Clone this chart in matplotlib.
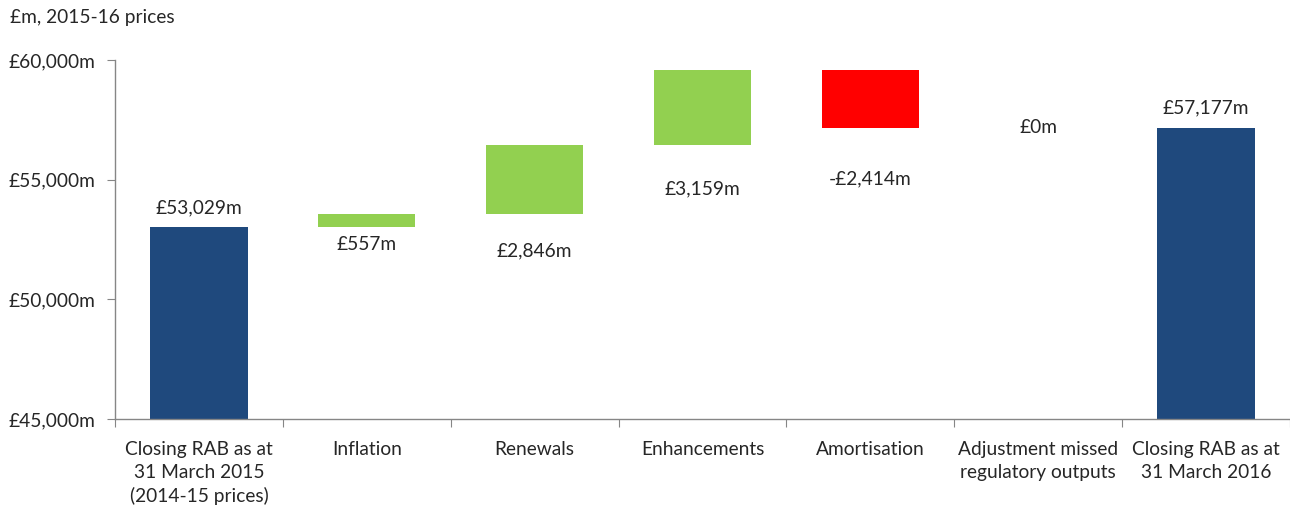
import numpy as np
import matplotlib.pyplot as plt

plt.rcParams['font.family'] = ['Lato', 'DejaVu Sans']

# 数据：RAB 变动瀑布图（£m, 2015-16 prices）
categories = ['Closing RAB as at\n31 March 2015\n(2014-15 prices)', 'Inflation', 'Renewals',
              'Enhancements', 'Amortisation', 'Adjustment missed\nregulatory outputs',
              'Closing RAB as at\n31 March 2016']
opening = 53029
changes = [557, 2846, 3159, -2414, 0]
closing = 57177
labels = ['£53,029m', '£557m', '£2,846m', '£3,159m', '-£2,414m', '£0m', '£57,177m']

yticks = [45000, 50000, 55000, 60000]
ytick_labels = ['£45,000m', '£50,000m', '£55,000m', '£60,000m']

NAVY = '#1F497D'
GREEN = '#92D050'
RED = '#FF0000'
AXIS_GREY = '#868686'
TEXT = '#262626'
FONTSIZE = 13.8

# 标签相对柱子的偏移（点）
LABEL_OFFSETS = [14, -13, -27, -31, -37, 0, 14]

fig = plt.figure(figsize=(12.9, 5.11), dpi=100)
ax = fig.add_axes([115 / 1290, 1 - 419 / 511, 1175 / 1290, 359 / 511])

x = np.arange(len(categories))
width = 0.58

# 起止两根总量柱
ax.bar(x[0], opening - 45000, bottom=45000, width=width, color=NAVY)
ax.bar(x[-1], closing - 45000, bottom=45000, width=width, color=NAVY)

# 中间的增减柱
level = opening
tops = [opening]
bottoms = [opening]
for i, c in enumerate(changes, start=1):
    lo = min(level, level + c)
    hi = max(level, level + c)
    if c != 0:
        ax.bar(x[i], hi - lo, bottom=lo, width=width, color=GREEN if c > 0 else RED)
    tops.append(hi)
    bottoms.append(lo)
    level += c
tops.append(closing)
bottoms.append(closing)

for i, lab in enumerate(labels):
    off = LABEL_OFFSETS[i]
    anchor = tops[i] if i in (0, len(labels) - 1) else bottoms[i]
    ax.annotate(lab, (x[i], anchor), xytext=(0, off), textcoords='offset points',
                ha='center', va='center', fontsize=FONTSIZE, color=TEXT)

ax.set_xlim(-0.5, len(categories) - 0.5)
ax.set_ylim(45000, 60000)
ax.set_yticks(yticks)
ax.set_yticklabels(ytick_labels, fontsize=FONTSIZE, color=TEXT)

# x 轴刻度放在类别分界处，类别名居中
ax.set_xticks(np.arange(len(categories) + 1) - 0.5)
ax.set_xticklabels([])
ax.set_xticks(x, minor=True)
ax.set_xticklabels(categories, minor=True, fontsize=FONTSIZE, color=TEXT, linespacing=1.42)
ax.tick_params(axis='x', which='minor', length=0, pad=16)
ax.tick_params(axis='x', which='major', length=6, color=AXIS_GREY, direction='out')
ax.tick_params(axis='y', length=6, color=AXIS_GREY, direction='out', pad=8)

for side in ('top', 'right'):
    ax.spines[side].set_visible(False)
for side in ('left', 'bottom'):
    ax.spines[side].set_color(AXIS_GREY)
    ax.spines[side].set_linewidth(1)

fig.text(10 / 1290, 1 - 18 / 511, '£m, 2015-16 prices', fontsize=FONTSIZE, color=TEXT,
         ha='left', va='center')

plt.savefig('out.png', dpi=100)
plt.close()
